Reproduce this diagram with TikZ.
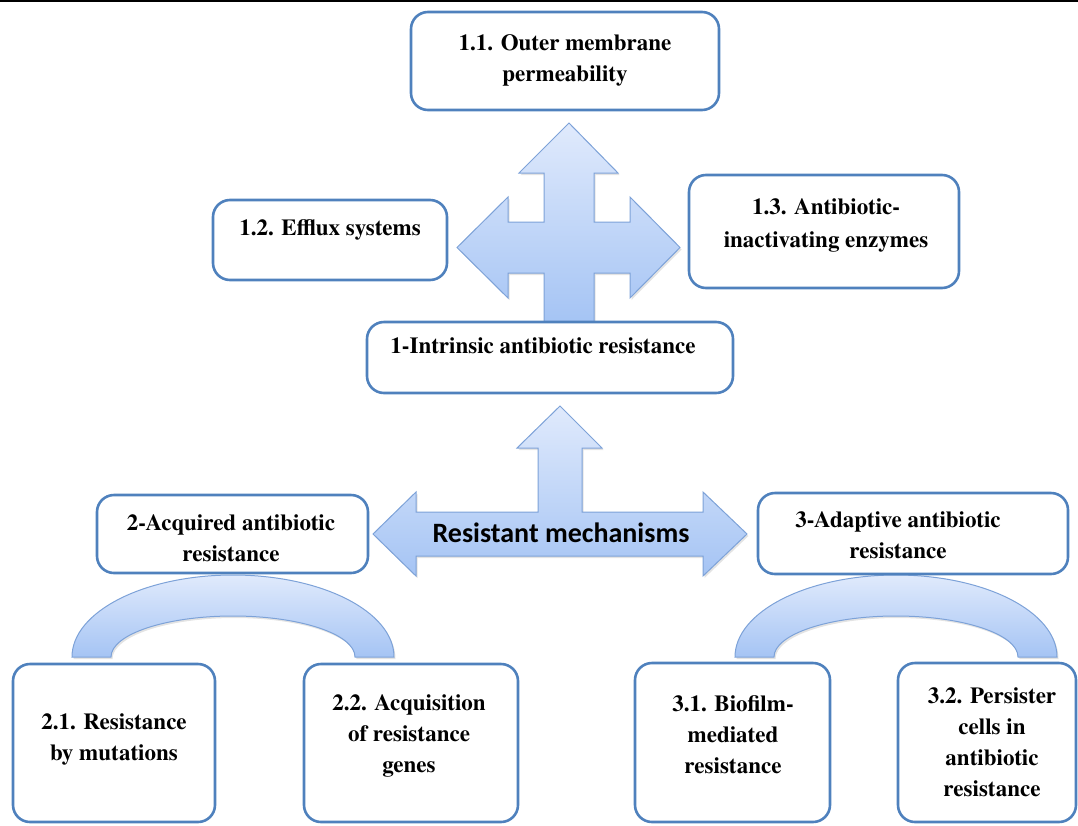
\documentclass[tikz,border=0pt]{standalone}
\usepackage{fontspec}
\newfontfamily\boxfont{texgyretermes-bold.otf}
\newfontfamily\calibrifont{Carlito}
\usetikzlibrary{shadows}

\definecolor{boxblue}{RGB}{79,129,189}
\definecolor{arrowline}{RGB}{125,162,216}
\definecolor{arrowtop}{RGB}{224,234,252}
\definecolor{arrowbot}{RGB}{165,196,244}

\tikzset{
  box/.style={draw=boxblue, line width=2.6pt, rounded corners=17pt, fill=white, inner sep=0pt},
  boxtext/.style={font=\boxfont\fontsize{23}{31}\selectfont, align=center, inner sep=0pt, anchor=north},
  blockarrow/.style={draw=arrowline, line width=1pt, top color=arrowtop, bottom color=arrowbot,
    drop shadow={opacity=0.22, shadow xshift=1.5pt, shadow yshift=-2pt}},
}

\begin{document}
\begin{tikzpicture}[x=1pt, y=-1pt]
\useasboundingbox (0,0) rectangle (1078,825);
\fill[black] (0,0) rectangle (1078,2);

% four-way block arrow above the intrinsic box
\path[blockarrow] (569,123) -- (618,173) -- (594,173) -- (594,222) -- (630,222) -- (630,197)
  -- (680,247.5) -- (630,298) -- (630,273) -- (594,273) -- (594,322) -- (544,322)
  -- (544,273) -- (508,273) -- (508,298) -- (457,247.5) -- (508,197) -- (508,222)
  -- (544,222) -- (544,173) -- (519,173) -- cycle;

% three-way block arrow carrying the central title
\path[blockarrow] (560,406) -- (602,448) -- (582,448) -- (582,512) -- (703,512) -- (703,492)
  -- (747,534) -- (703,576) -- (703,556) -- (416,556) -- (416,576) -- (373,534)
  -- (416,492) -- (416,512) -- (538,512) -- (538,448) -- (517,448) -- cycle;
\node[font=\calibrifont\bfseries\fontsize{28}{32}\selectfont, inner sep=0pt, anchor=base]
  (title) at (561,542) {Resistant mechanisms};

% curved bands over the sub-mechanism boxes
\path[blockarrow] (72,657) arc[start angle=180, end angle=360, x radius=161, y radius=82]
  -- (355,657) arc[start angle=0, end angle=-180, x radius=122, y radius=41] -- cycle;
\path[blockarrow] (735,657) arc[start angle=180, end angle=360, x radius=161, y radius=82]
  -- (1018,657) arc[start angle=0, end angle=-180, x radius=122, y radius=41] -- cycle;

% boxes
\node[box, minimum width=308pt, minimum height=98pt]  (b11) at (565,61) {};
\node[box, minimum width=234pt, minimum height=80pt]  (b12) at (330,240) {};
\node[box, minimum width=270pt, minimum height=113pt] (b13) at (824,231.5) {};
\node[box, minimum width=366pt, minimum height=71pt]  (b1)  at (550,357.5) {};
\node[box, minimum width=271pt, minimum height=78pt]  (b2)  at (232.5,534) {};
\node[box, minimum width=310pt, minimum height=81pt]  (b3)  at (913,533.5) {};
\node[box, minimum width=202pt, minimum height=158pt] (b21) at (114,743) {};
\node[box, minimum width=214pt, minimum height=158pt] (b22) at (411,743) {};
\node[box, minimum width=195pt, minimum height=159pt] (b31) at (732.5,742.5) {};
\node[box, minimum width=178pt, minimum height=159pt] (b32) at (987,742.5) {};

% box texts
\node[boxtext] (t11) at (565,34)  {1.1. Outer membrane\\permeability};
\node[boxtext] (t12) at (330,219) {1.2. Efflux systems};
\node[boxtext, font=\boxfont\fontsize{23}{33}\selectfont] (t13) at (826,198) {1.3. Antibiotic-\\inactivating enzymes};
\node[boxtext] (t1)  at (543,337) {1-Intrinsic antibiotic resistance};
\node[boxtext] (t2)  at (231,514) {2-Acquired antibiotic\\resistance};
\node[boxtext] (t3)  at (898,511) {3-Adaptive antibiotic\\resistance};
\node[boxtext] (t21) at (114,713) {2.1. Resistance\\by mutations};
\node[boxtext] (t22) at (409,694) {2.2. Acquisition\\of resistance\\genes};
\node[boxtext] (t31) at (733,695) {3.1. Biofilm-\\mediated\\resistance};
\node[boxtext] (t32) at (992,687) {3.2. Persister\\cells in\\antibiotic\\resistance};
\end{tikzpicture}
\end{document}
